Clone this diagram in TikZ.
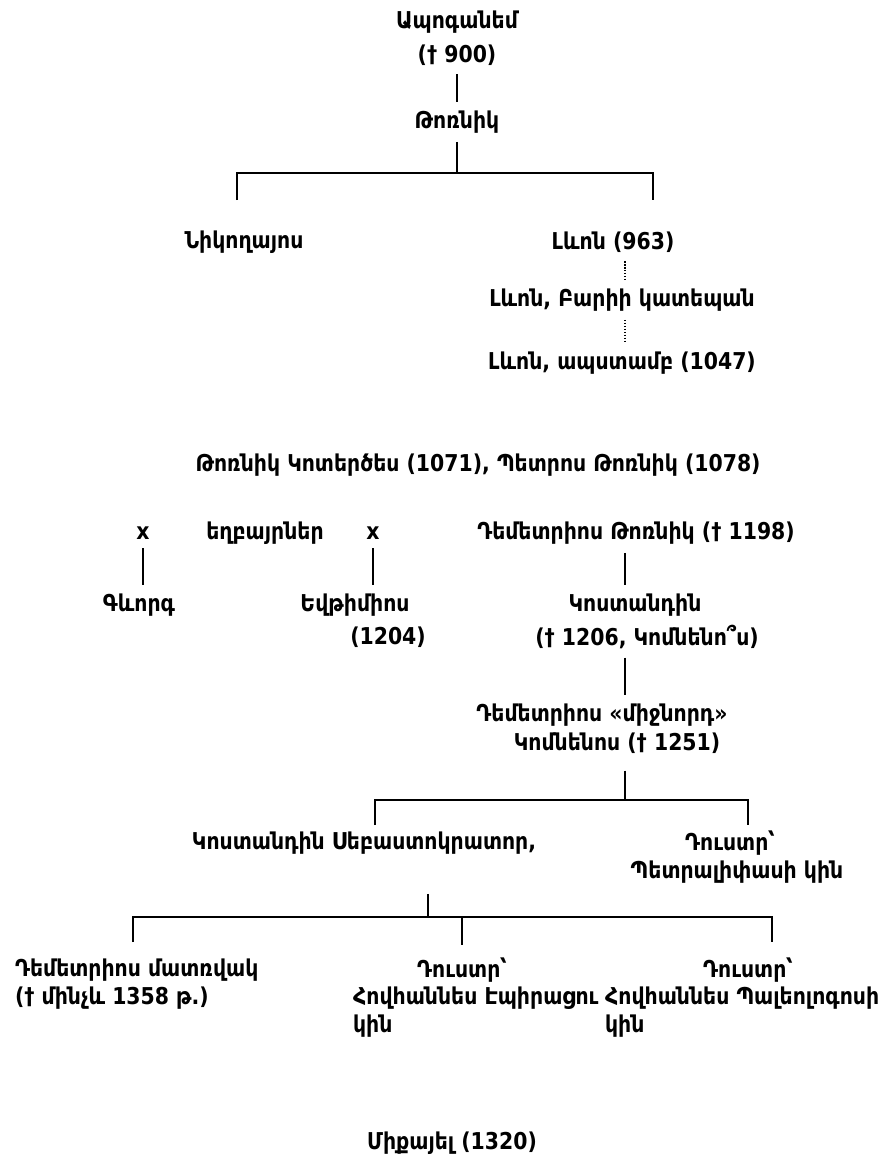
\documentclass[tikz,border=0pt]{standalone}
\usepackage{fontspec}
\setmainfont{DejaVu Sans}[FakeStretch=0.88]
\begin{document}
\begin{tikzpicture}[x=0.025cm,y=-0.025cm,
  name node/.style={font=\bfseries\fontsize{16.5}{18}\selectfont,inner sep=2pt},
  bar/.style={line width=2pt},
  link/.style={line width=2pt,shorten <=4pt,shorten >=4pt},
  dots/.style={line width=1.1pt,densely dotted,shorten <=4pt,shorten >=4pt}]
  	\useasboundingbox (0,0) rectangle (895,1166);

  	\node[name node] at (457,22) (apo) {Ապոգանեմ};
  	\node[name node] at (457,55) (d900) {(† 900)};
  	\node[name node] at (457,122) (tornik) {Թոռնիկ};
  	\node[name node] at (244,242) (nikol) {Նիկողայոս};
  	\node[name node] at (613,242) (levon1) {Լևոն (963)};
  	\node[name node] at (622,300) (levon2) {Լևոն, Բարիի կատեպան};
  	\node[name node] at (622,363) (levon3) {Լևոն, ապստամբ (1047)};
  	
  	\node[name node] at (478,465) (kotr) {Թոռնիկ Կոտերծես (1071), Պետրոս Թոռնիկ (1078)};
  	
  	\node[name node] at (143,533) (xa) {x};
  	\node[name node] at (265,533) (bros) {եղբայրներ};
  	\node[name node] at (373,533) (xb) {x};
  	\node[name node] at (636,533) (dem1) {Դեմետրիոս Թոռնիկ († 1198)};
  	\node[name node] at (139,605) (gev) {Գևորգ};
  	\node[name node] at (355,605) (evt) {Եվթիմիոս};
  	\node[name node] at (388,637) (evt2) {(1204)};
  	\node[name node] at (635,605) (kost) {Կոստանդին};
  	\node[name node] at (647,637) (kost2) {(† 1206, Կոմնենո՞ս)};
  	\node[name node] at (602,715) (dem2) {Դեմետրիոս «միջնորդ»};
  	\node[name node] at (617,743) (komn) {Կոմնենոս († 1251)};
  	
  	\node[name node] at (364,843) (kseb) {Կոստանդին Սեբաստոկրատոր,};
  	\node[name node] at (730,843) (dust1) {Դուստր՝};
  	\node[name node] at (737,872) (dust1b) {Պետրալիփասի կին};
  	
  	\node[name node,anchor=west] at (12,970) (dem3) {Դեմետրիոս մատռվակ};
  	\node[name node,anchor=west] at (12,998) (dem3b) {(† մինչև 1358 թ.)};
  	\node[name node] at (462,970) (dust2) {Դուստր՝};
  	\node[name node,anchor=west] at (350,998) (dust2b) {Հովհաննես Էպիրացու};
  	\node[name node,anchor=west] at (350,1026) (dust2c) {կին};
  	\node[name node] at (748,970) (dust3) {Դուստր՝};
  	\node[name node,anchor=west] at (602,998) (dust3b) {Հովհաննես Պալեոլոգոսի};
  	\node[name node,anchor=west] at (602,1026) (dust3c) {կին};
  	
  	\node[name node] at (452,1143) (mikael) {Միքայել (1320)};
  	
  	\coordinate (bar1) at (457,173);
  	\coordinate (nikup) at (237,200);
  	\coordinate (levup) at (653,200);
  	\coordinate (dx) at (625,0);
  	\coordinate (bar3) at (625,800);
  	\coordinate (ksup) at (375,825);
  	\coordinate (dsup) at (748,825);
  	\coordinate (bar4) at (428,917);
  	\coordinate (demup) at (133,942);
  	\coordinate (midup) at (462,945);
  	\coordinate (rup) at (772,942);
  	
  	\path[link]
  	(d900) edge (tornik)
  	(xa.south) edge (xa.south |- gev.north)
  	(xb.south) edge (xb.south |- evt.north)
  	(dem1.south -| dx) edge (kost.north -| dx)
  	(kost2.south -| dx) edge (dem2.north -| dx);
  	
  	\path[dots]
  	(levon1.south -| dx) edge (levon2.north -| dx)
  	(levon2.south -| dx) edge (levon3.north -| dx);
  	
  	\draw[bar,shorten <=4pt] (tornik) -- (bar1);
  	\draw[bar] (nikup) |- (bar1) -| (levup);
  	\draw[bar,shorten <=10pt] (komn.south -| bar3) -- (bar3);
  	\draw[bar] (ksup) |- (bar3) -| (dsup);
  	\draw[bar,shorten <=26pt] (kseb.south -| bar4) -- (bar4);
  	\draw[bar] (demup) |- (bar4) -| (rup);
  	\draw[bar] (bar4 -| midup) -- (midup);
\end{tikzpicture}
\end{document}
